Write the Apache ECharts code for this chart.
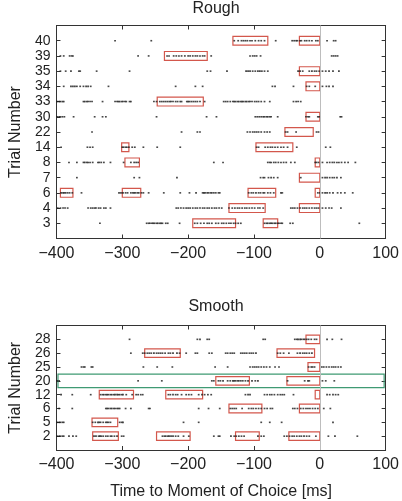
<!DOCTYPE html>
<html><head><meta charset="utf-8">
<script src="https://cdn.jsdelivr.net/npm/echarts@6/dist/echarts.min.js"></script>
<style>html,body{margin:0;padding:0;background:#fff}#c{width:402px;height:501px}</style>
</head><body><div id="c"></div>
<script>
// ---- Rough panel: trial rows (bottom -> top) ----
const roughRows = ['3','4','6','7','8','14','22','30','33','34','35','39','40'];
const rough40 = [-311,-256,-130,-124,-119,-116,-113,-110,-106,-103,-98,-93,-89,-84,-67,-42,-39,-36,-34,-30,-28,-23,-20,-16,-12,-6,-3,11,21,24];
const rough39 = [-394,-389,-380,-377,-375,-276,-260,-232,-229,-222,-218,-214,-210,-205,-200,-197,-193,-189,-186,-182,-178,-175,-165,-106,-102,-99,-96,-90,18,21,24,27];
const rough35 = [-394,-386,-378,-366,-364,-339,-289,-171,-166,-141,-112,-109,-106,-102,-98,-94,-91,-88,-84,-79,-33,-30,-26,-16,-12,-8,-5,-1,4,9,14,20,29];
const rough34 = [-389,-378,-375,-372,-369,-364,-359,-355,-352,-348,-321,-219,-189,-178,-72,-68,-40,-20,-16,-7,4,10,14,20];
const rough33 = [-399,-396,-394,-391,-389,-359,-357,-354,-352,-349,-346,-330,-311,-308,-306,-304,-301,-299,-296,-294,-289,-287,-252,-248,-243,-240,-237,-234,-231,-228,-226,-223,-219,-216,-212,-210,-202,-200,-198,-195,-192,-189,-186,-182,-175,-146,-143,-140,-136,-132,-130,-128,-125,-123,-120,-118,-116,-113,-111,-108,-106,-103,-99,-96,-93,-89,-84,-76,-40,-36,-33,-29];
const rough30 = [-399,-396,-394,-391,-388,-374,-342,-330,-325,-248,-172,-157,-98,-95,-92,-89,-86,-84,-81,-79,-76,-74,-64,-21,-18,-16,-3,-1,31,33];
const rough22 = [-346,-210,-186,-182,-110,-106,-102,-99,-96,-93,-89,-84,-80,-76,-52,-49,-36,-5,-2];
const rough14 = [-393,-353,-349,-345,-300,-298,-295,-293,-290,-285,-281,-268,-247,-212,-96,-93,-83,-79,-75,-72,-68,-64,-59,-55,-49,-35,9,16];
const rough8 = [-381,-369,-359,-357,-354,-352,-349,-345,-337,-335,-332,-328,-318,-298,-287,-282,-279,-276,-161,-147,-79,-76,-74,-70,-67,-63,-59,-55,-51,-44,-38,-7,-5,-2,4,11,15,19,22,26,29,33,38,43,54];
const rough7 = [-369,-282,-274,-217,-90,-86,-84,-78,-74,-70,-64,-29,4,8,11,15,19,22,26,32];
const rough6 = [-393,-390,-388,-386,-383,-380,-376,-362,-305,-302,-299,-295,-292,-287,-284,-282,-280,-277,-275,-271,-268,-260,-237,-212,-198,-188,-178,-176,-174,-171,-169,-166,-164,-161,-158,-154,-152,-108,-104,-101,-97,-93,-90,-86,-84,-79,-75,-70,-59,-57,-3,0,4,8,11,15,20,27,32,38,50];
const rough4 = [-398,-394,-390,-387,-383,-352,-348,-345,-342,-340,-336,-333,-328,-325,-318,-218,-215,-211,-207,-203,-200,-197,-193,-189,-186,-182,-178,-175,-171,-168,-164,-160,-157,-153,-149,-138,-133,-129,-125,-122,-118,-114,-111,-107,-103,-99,-94,-91,-86,-44,-41,-38,-34,-30,-26,-23,-20,-16,-12,-8,-5,-2,4,9,14,18,32];
const rough3 = [-334,-263,-260,-258,-255,-253,-251,-248,-246,-243,-241,-239,-234,-231,-213,-190,-186,-181,-176,-171,-168,-164,-158,-154,-149,-146,-142,-138,-135,-131,-128,-124,-120,-84,-81,-79,-76,-74,-72,-69,-67,-64,-62,-59,-57,-45,-41,60];
const roughSpikes = [rough3,rough4,rough6,rough7,rough8,rough14,rough22,rough30,rough33,rough34,rough35,rough39,rough40];
// windows: [trial, start, end]
const roughWindows = [['40',-132,-79],['40',-31,0],['39',-236,-171],['35',-31,0],['34',-21,0],['33',-247,-177],['30',-21,0],['22',-53,-10],['14',-301,-290],['14',-97,-41],['8',-296,-274],['8',-7,0],['7',-31,0],['6',-394,-375],['6',-300,-272],['6',-109,-67],['6',-7,0],['4',-138,-83],['4',-31,0],['3',-193,-128],['3',-86,-64]];

// ---- Smooth panel ----
const smoothRows = ['2','5','6','12','20','25','26','28'];
const smooth28 = [-289,-186,-182,-171,-168,-86,-83,-38,-35,-33,-30,-28,-25,-23,-20,-17,-13,-8,-5,11,19,33];
const smooth26 = [-287,-269,-266,-262,-259,-256,-252,-248,-245,-242,-239,-235,-230,-227,-223,-217,-213,-203,-189,-186,-168,-164,-143,-140,-136,-133,-130,-120,-117,-114,-111,-107,-104,-101,-97,-64,-60,-55,-47,-34,-30,-26,-23,-20,-16,-12];
const smooth25 = [-362,-359,-357,-347,-345,-268,-247,-224,-159,-140,-106,-102,-99,-96,-93,-89,-85,-81,-76,-68,-62,-17,-13,-11,-8,3,6,10,14,18,21,24,28,32];
const smooth20 = [-399,-396,-276,-240,-164,-161,-154,-151,-147,-140,-136,-132,-130,-128,-125,-123,-120,-117,-113,-109,-103,-98,-94,-49,-23,-18,-16,4,9,22];
const smooth12 = [-393,-376,-348,-333,-330,-328,-325,-323,-321,-318,-316,-313,-311,-308,-306,-304,-301,-299,-294,-285,-279,-276,-272,-269,-230,-227,-223,-219,-216,-210,-203,-199,-195,-184,-179,-175,-170,-165,-113,-109,-106,-84,-80,-76,-73,-69,-64,-60,-57,-54,-40,11,15,20,24,28];
const smooth6 = [-396,-376,-325,-323,-321,-318,-316,-313,-311,-308,-306,-304,-295,-287,-260,-258,-184,-169,-152,-136,-133,-130,-127,-118,-108,-104,-101,-97,-93,-89,-84,-80,-75,-72,-41,-38,-34,-29,-25,-21,-18,-15,-11,-7,-3,6,16];
const smooth5 = [-399,-396,-394,-391,-389,-345,-341,-337,-335,-333,-329,-325,-323,-321,-318,-304,-301,-299,-207,-184,-89,-76,-58,20];
const smooth2 = [-399,-396,-394,-391,-389,-381,-375,-370,-343,-340,-336,-334,-332,-329,-325,-322,-318,-316,-312,-308,-301,-298,-239,-236,-234,-231,-229,-226,-223,-219,-215,-207,-199,-161,-154,-152,-135,-130,-127,-123,-119,-115,-94,-89,-85,-54,-50,-46,-42,-39,-35,-31,-28,-24,-20,-16,-6,13,23,57];
const smoothSpikes = [smooth2,smooth5,smooth6,smooth12,smooth20,smooth25,smooth26,smooth28];
const smoothWindows = [['28',-21,0],['26',-266,-212],['26',-65,-8],['25',-18,0],['20',-158,-107],['20',-50,0],['12',-335,-283],['12',-234,-178],['12',-7,0],['6',-138,-88],['6',-31,0],['5',-346,-307],['2',-345,-306],['2',-248,-197],['2',-128,-92],['2',-47,0]];
const smoothHighlight = [['20',-400,100]];

const xTicks = {min:-400, max:100, interval:100};

const FONT = '"Liberation Sans", Arial, Helvetica, sans-serif';
const AX = '#333';
function spikeData(rows, spikes){
  const out=[];
  spikes.forEach((arr,i)=>arr.forEach(t=>out.push([t,i+1])));
  return out;
}
function winData(rows, wins){
  return wins.map(w=>[w[1], w[2], rows.indexOf(w[0])+1]);
}
function boxRender(color, half, lw, inset){
  return function(params, api){
    const a = api.coord([api.value(0), api.value(2)+half]);
    const b = api.coord([api.value(1), api.value(2)-half]);
    const d = inset||0;
    return {type:'rect', shape:{x:a[0]+d, y:a[1], width:b[0]-a[0]-2*d, height:b[1]-a[1]},
      style:{fill:'none', stroke:color, lineWidth:lw}};
  };
}
function xAx(grid, pos, labels, name){
  return {type:'value', gridIndex:grid, position:pos, min:xTicks.min, max:xTicks.max, interval:xTicks.interval,
    axisLine:{show:true, onZero:false, lineStyle:{color:AX, width:1}},
    axisTick:{show:true, inside:true, length:4, lineStyle:{color:AX}},
    splitLine:{show:false},
    axisLabel:{show:labels, margin:7, color:'#222', fontSize:16, fontFamily:FONT,
      formatter:v=>String(v).replace('-','\u2212')},
    name: name||'', nameLocation:'middle', nameGap:34,
    nameTextStyle:{color:'#222', fontSize:16, fontFamily:FONT}};
}
function yAx(grid, pos, rows, labels, name){
  return {type:'value', gridIndex:grid, position:pos, min:0, max:rows.length+1, interval:1,
    axisLine:{show:true, onZero:false, lineStyle:{color:AX, width:1}},
    axisTick:{show:true, inside:true, length:4, lineStyle:{color:AX}},
    splitLine:{show:false},
    axisLabel:{show:labels, margin:6, color:'#222', fontSize:14, fontFamily:FONT,
      formatter:v=>rows[v-1]||''},
    name: name||'', nameLocation:'middle', nameGap:29, nameRotate:90,
    nameTextStyle:{color:'#222', fontSize:16, fontFamily:FONT}};
}
const zeroLine = {silent:true, symbol:'none', label:{show:false}, animation:false,
  lineStyle:{color:'#bdbdbd', type:'solid', width:1}, data:[{xAxis:0}]};

const chart = echarts.init(document.getElementById('c'), null, {renderer:'canvas'});
chart.setOption({
  animation:false,
  backgroundColor:'#fff',
  title:[
    {text:'Rough', left:216, top:1, padding:0, textAlign:'center', textStyle:{fontSize:16, fontWeight:'normal', color:'#222', fontFamily:FONT}},
    {text:'Smooth', left:216, top:299, padding:0, textAlign:'center', textStyle:{fontSize:16, fontWeight:'normal', color:'#222', fontFamily:FONT}}
  ],
  grid:[
    {left:43, right:14, top:25.5, height:213},
    {left:43, right:14, top:325.5, height:131.5}
  ],
  xAxis:[ xAx(0,'bottom',true), xAx(0,'top',false), xAx(1,'bottom',true,'Time to Moment of Choice [ms]'), xAx(1,'top',false) ],
  yAxis:[ yAx(0,'left',roughRows,true,'Trial Number'), yAx(0,'right',roughRows,false), yAx(1,'left',smoothRows,true,'Trial Number'), yAx(1,'right',smoothRows,false) ],
  series:[
    {type:'scatter', xAxisIndex:0, yAxisIndex:0, symbol:'rect', symbolSize:[1.8,1.6], itemStyle:{color:'#1a1a1a'},
      data:spikeData(roughRows, roughSpikes), markLine:zeroLine, silent:true},
    {type:'custom', xAxisIndex:0, yAxisIndex:0, clip:true, renderItem:boxRender('#d3574c',0.29,1.2),
      encode:{x:[0,1], y:2}, data:winData(roughRows, roughWindows), silent:true},
    {type:'scatter', xAxisIndex:2, yAxisIndex:2, symbol:'rect', symbolSize:[1.8,1.6], itemStyle:{color:'#1a1a1a'},
      data:spikeData(smoothRows, smoothSpikes), markLine:zeroLine, silent:true},
    {type:'custom', xAxisIndex:2, yAxisIndex:2, clip:true, renderItem:boxRender('#d3574c',0.31,1.2),
      encode:{x:[0,1], y:2}, data:winData(smoothRows, smoothWindows), silent:true},
    {type:'custom', xAxisIndex:2, yAxisIndex:2, clip:false, renderItem:boxRender('#3f9a73',0.49,1.2,1.5),
      encode:{x:[0,1], y:2}, data:winData(smoothRows, smoothHighlight), silent:true}
  ]
});
</script></body></html>
